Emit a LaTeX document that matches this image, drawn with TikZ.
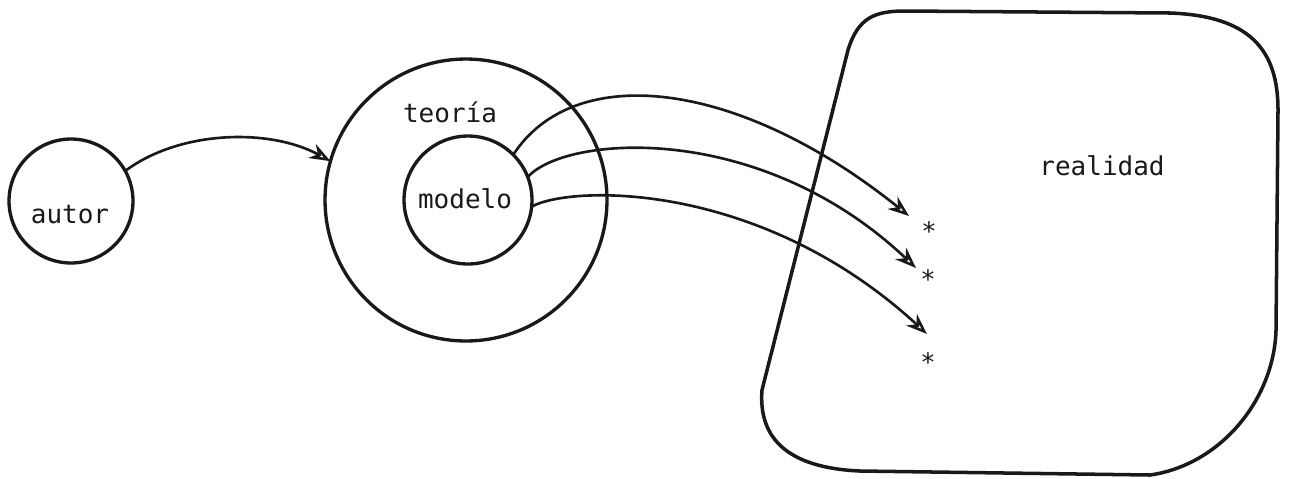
\documentclass[tikz,border=0pt]{standalone}
\usepackage{fontspec}
\setmonofont{DejaVu Sans Mono}
\usetikzlibrary{arrows.meta}
\tikzset{
  ring/.style={circle, draw=black!90, line width=1.9pt, inner sep=0pt, outer sep=0pt},
  lbl/.style={inner sep=0pt, anchor=base, font=\ttfamily\fontsize{14.8}{17}\selectfont, text=black!90},
  star/.style={inner sep=0pt, font=\ttfamily\fontsize{14.5}{17}\selectfont, text=black!90},
  conn/.style={draw=black!90, line width=1.5pt, -{Stealth[open, length=12pt, width=9pt]}},
  bound/.style={draw=black!90, line width=2pt, line join=round}
}
\begin{document}
\begin{tikzpicture}[x=0.02cm, y=-0.02cm]
\useasboundingbox (0,0) rectangle (1293,478);

% circles
\node[ring, minimum size=2.48cm] (autor) at (71,201) {};
\node[ring, minimum size=5.64cm] (teoria) at (466,200) {};
\node[ring, minimum size=2.56cm] (modelo) at (468,200) {};

% labels
\node[lbl] (tautor) at (70,223) {autor};
\node[lbl] (tteoria) at (450,122) {teoría};
\node[lbl] (tmodelo) at (465,208) {modelo};
\node[lbl] (trealidad) at (1102,175) {realidad};

% realidad boundary
\draw[bound] (848,50) .. controls (858,18) and (874,11) .. (905,11)
  -- (1170,13) .. controls (1250,16) and (1278,50) .. (1278,110)
  -- (1276,330) .. controls (1274,400) and (1220,465) .. (1150,475)
  -- (860,471) .. controls (790,468) and (758,440) .. (762,390)
  -- cycle;

% asterisks
\node[star] (s1) at (929,231) {*};
\node[star] (s2) at (928,279) {*};
\node[star] (s3) at (928,362) {*};

% arrow end points
\coordinate (e1) at (909,216);
\coordinate (e2) at (916,268);
\coordinate (e3) at (927,334);

% connectors
\draw[conn] (autor.29) .. controls (180,130) and (270,128) .. (teoria.164);
\draw[conn] (modelo.45) .. controls (575,60) and (740,80) .. (e1);
\draw[conn] (modelo.21) .. controls (565,135) and (760,120) .. (e2);
\draw[conn] (modelo.-6) .. controls (570,185) and (760,180) .. (e3);
\end{tikzpicture}
\end{document}
